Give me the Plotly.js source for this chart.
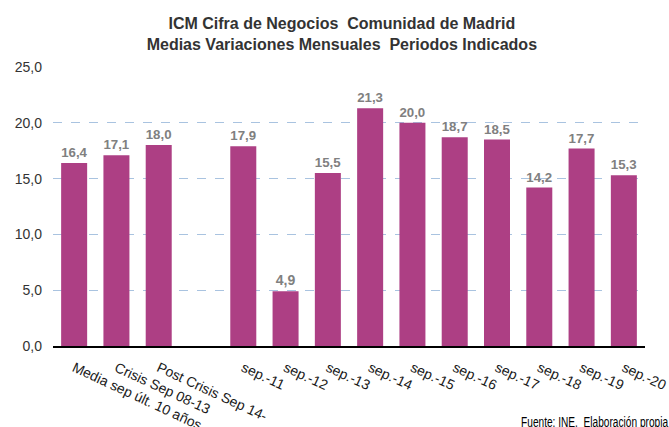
<!DOCTYPE html>
<html>
<head>
<meta charset="utf-8">
<script src="https://cdn.plot.ly/plotly-3.0.1.min.js"></script>
<style>html,body{margin:0;padding:0;background:#fff;}#chart{width:669px;height:427px;}</style>
</head>
<body>
<div id="chart"></div>
<script>
var categories = ["Media sep últ. 10 años", "Crisis Sep 08-13", "Post Crisis Sep 14-", " ",
  "sep.-11", "sep.-12", "sep.-13", "sep.-14", "sep.-15", "sep.-16", "sep.-17", "sep.-18", "sep.-19", "sep.-20"];
var values = [16.4, 17.1, 18.0, null, 17.9, 4.9, 15.5, 21.3, 20.0, 18.7, 18.5, 14.2, 17.7, 15.3];
var tickVals = [0, 5, 10, 15, 20, 25];
var sourceText = 'Fuente: INE.  Elaboración propia';

var trace = {
  type: 'bar',
  x: categories,
  y: values,
  marker: {color: '#AD3F84'},
  text: values.map(function(v){ return v === null ? '' : v.toFixed(1).replace('.', ','); }),
  textposition: 'outside',
  textfont: {family: 'Liberation Sans, Arial, sans-serif', size: 14, color: '#808080', weight: 'bold'},
  cliponaxis: false,
  hoverinfo: 'none'
};

var layout = {
  width: 669, height: 427,
  margin: {l: 53, r: 24, t: 67, b: 81},
  paper_bgcolor: '#fff', plot_bgcolor: '#fff',
  separators: ',.',
  bargap: 0.385,
  showlegend: false,
  title: {
    text: '<b>ICM Cifra de Negocios  Comunidad de Madrid<br>Medias Variaciones Mensuales  Periodos Indicados</b>',
    font: {family: 'Liberation Sans, Arial, sans-serif', size: 16, color: '#333333'},
    x: 0.511, xanchor: 'center', xref: 'container', y: 0.931, yanchor: 'middle', yref: 'container'
  },
  xaxis: {
    type: 'category',
    tickangle: 25,
    tickfont: {family: 'Liberation Sans, Arial, sans-serif', size: 14, color: '#1a1a1a'},
    showgrid: false,
    showline: true, linecolor: '#000', linewidth: 1.5,
    ticks: '', automargin: false, ticklabelstandoff: 7
  },
  yaxis: {
    range: [0, 25],
    tickvals: tickVals,
    tickformat: '.1f',
    tickfont: {family: 'Liberation Sans, Arial, sans-serif', size: 14, color: '#333333'},
    showgrid: true, gridcolor: '#A9C3E0', griddash: 'dash', gridwidth: 1,
    zeroline: false, showline: false, ticks: '', ticklen: 0,
    ticklabelstandoff: 10,
    automargin: false
  },
  annotations: [{
    text: sourceText,
    xref: 'paper', yref: 'paper', x: 0.9147, xanchor: 'center',
    y: -0.272, yanchor: 'middle',
    showarrow: false,
    font: {family: 'Liberation Sans, Arial, sans-serif', size: 14, color: '#000'}
  }]
};

Plotly.newPlot('chart', [trace], layout, {displayModeBar: false, staticPlot: true}).then(function(gd){
  var t = gd.querySelector('.annotation-text');
  if (t) {
    t.setAttribute('textLength', '147');
    t.setAttribute('lengthAdjust', 'spacingAndGlyphs');
  }
});
</script>
</body>
</html>
